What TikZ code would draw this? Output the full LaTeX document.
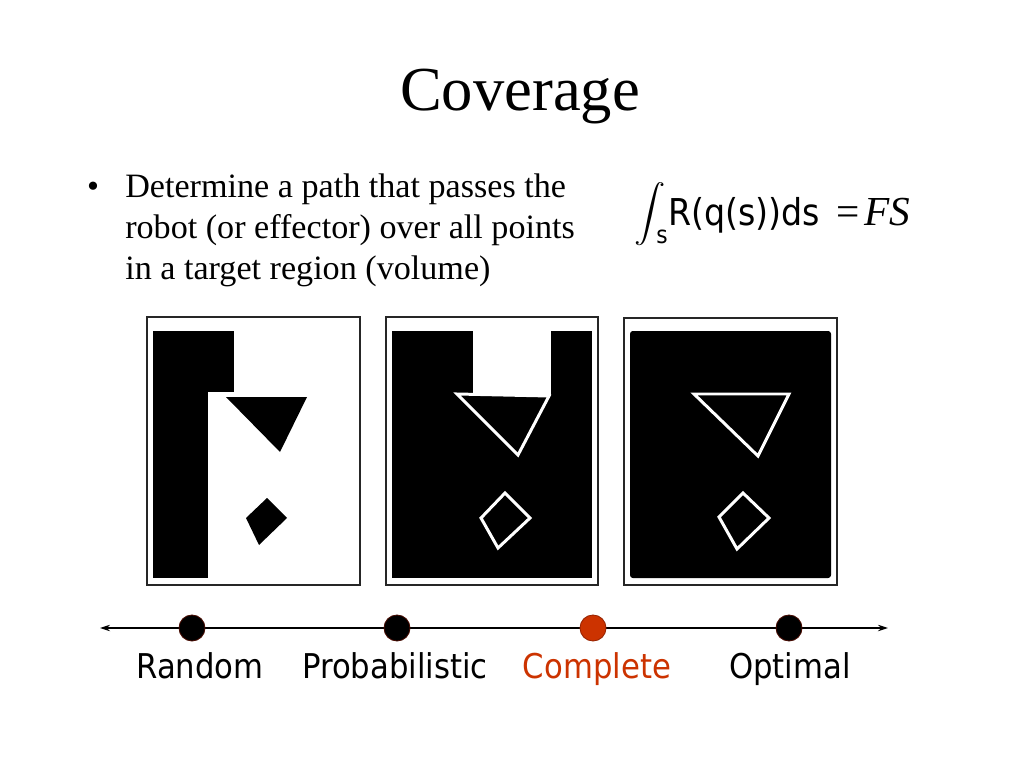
\documentclass[tikz,border=0pt]{standalone}
\usepackage{fontspec}
\setmainfont{Liberation Serif}
\newfontfamily\lab{DejaVu Sans Condensed}
\usetikzlibrary{arrows.meta}
\definecolor{compl}{RGB}{204,51,0}
\definecolor{dotrim}{RGB}{70,10,0}
\definecolor{complrim}{RGB}{150,35,0}
\begin{document}
\begin{tikzpicture}[x=0.703125pt,y=-0.703125pt,
  body/.style={font=\fontsize{24}{29}\selectfont, inner sep=0pt},
  lbl/.style={font=\lab\fontsize{24}{29}\selectfont, inner sep=0pt, anchor=base},
  frame/.style={draw=black!85, line width=0.9pt},
  wline/.style={draw=white, line width=2.1pt, fill=black, line join=miter},
  dot/.style={circle, minimum size=18.3pt, inner sep=0pt, fill=black, draw=dotrim, line width=0.6pt},
  cdot/.style={dot, fill=compl, draw=complrim}]
\useasboundingbox[fill=white] (0,0) rectangle (1024,768);

% title
\node[anchor=base, font=\fontsize{44}{53}\selectfont, inner sep=0pt] (title) at (520,111) {Coverage};

% bullet text
\node[body, anchor=base] (bullet) at (93,198) {•};
\node[body, anchor=base west] (l1) at (125,198) {Determine a path that passes the};
\node[body, anchor=base west] (l2) at (125,239) {robot (or effector) over all points};
\node[body, anchor=base west] (l3) at (125,280) {in a target region (volume)};

% formula
\node[inner sep=0pt, xscale=2.2, yscale=2.0] (int) at (650,214) {$\displaystyle\int$};
\node[anchor=base west, font=\lab\fontsize{17}{20}\selectfont, inner sep=0pt] (sub) at (656,244) {s};
\node[lbl, anchor=base west, font=\lab\fontsize{26}{30}\selectfont] (expr) at (668,226) {R(q(s))ds};
\node[anchor=base west, font=\fontsize{29}{34}\selectfont, inner sep=0pt] (eq) at (836,226) {=\kern0.12em\textit{FS}};

% panel 1 (random)
\draw[frame] (147,317) rectangle (360,585);
\fill (153,331) rectangle (234,392);
\fill (153,391) rectangle (208,578);
\fill (226,397) -- (307,397) -- (280,452) -- cycle;
\fill (267,498) -- (287,518) -- (259,545) -- (246,518) -- cycle;

% panel 2 (probabilistic)
\draw[frame] (386,317) rectangle (598,585);
\fill (392,331) rectangle (592,578);
\fill[white] (473,331) rectangle (551,396);
\draw[wline] (457,394) -- (549,396) -- (518,455) -- cycle;
\draw[wline] (505,493) -- (530,518) -- (498,548) -- (481,518) -- cycle;

% panel 3 (complete)
\draw[frame] (624,318) rectangle (837,585);
\fill[rounded corners=2pt] (630,331) rectangle (831,578);
\draw[wline] (694,394) -- (789,394) -- (758,456) -- cycle;
\draw[wline] (743,493) -- (769,518) -- (737,549) -- (719,517) -- cycle;

% timeline
\coordinate (lend) at (100,628);
\coordinate (rend) at (888,628);
\draw[line width=0.8pt, {Stealth[length=7pt,width=4.5pt]}-{Stealth[length=7pt,width=4.5pt]}] (lend) -- (rend);
\node[dot] (d1) at (192,628) {};
\node[dot] (d2) at (397,628) {};
\node[cdot] (d3) at (593,628) {};
\node[dot] (d4) at (789,628) {};

\node[lbl] (t1) at (200,678) {Random};
\node[lbl] (t2) at (395,678) {Probabilistic};
\node[lbl, text=compl] (t3) at (597,678) {Complete};
\node[lbl] (t4) at (790,678) {Optimal};
\end{tikzpicture}
\end{document}
